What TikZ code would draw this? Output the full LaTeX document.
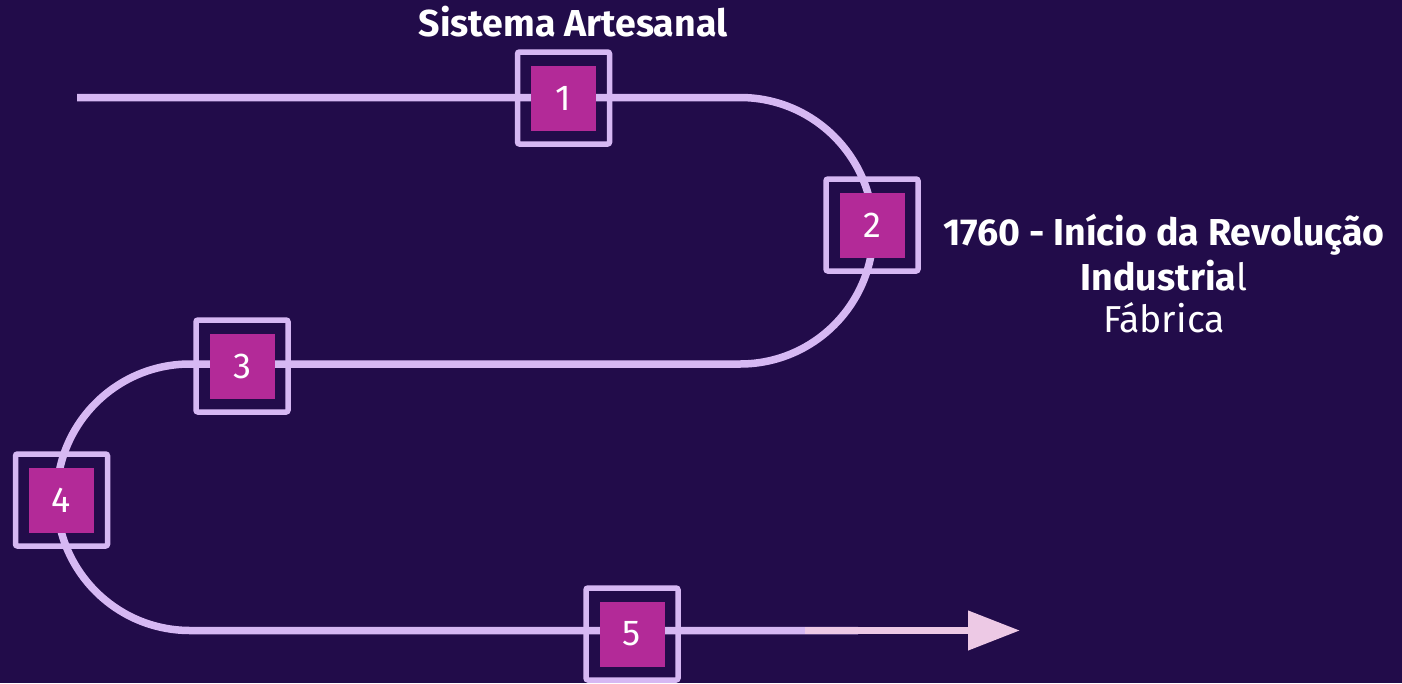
\documentclass[tikz,border=0pt]{standalone}
\usepackage{fontspec}
\setmainfont{Fira Sans}
\usetikzlibrary{arrows.meta}
\definecolor{bgpurple}{HTML}{220C4A}
\definecolor{trail}{HTML}{D6B8F3}
\definecolor{stagefill}{HTML}{B32A98}
\definecolor{arrowpink}{HTML}{EDC9E5}
\begin{document}
\begin{tikzpicture}
[
    x=1pt, y=-1pt,
    frame/.style={draw=trail, line width=5.5pt, rounded corners=2pt, minimum size=92pt, inner sep=0pt},
    stage/.style={fill=stagefill, text=white, minimum size=65pt, inner sep=0pt, font=\fontsize{36}{42}\selectfont},
    title/.style={text=white, anchor=base, inner sep=0pt, font=\fontsize{37.5}{44}\selectfont},
]
\fill[bgpurple] (0,0) rectangle (1402,683);
\useasboundingbox (0,0) rectangle (1402,683);
% trail
\coordinate (start) at (77,97.5);
\coordinate (turnR) at (740,97.5);
\coordinate (backL) at (190,364);
\coordinate (stop) at (858,630.5);
\coordinate (tailP) at (805,630.5);
\coordinate (tip) at (1020,630.5);
\draw[trail, line width=7.5pt] (start) -- (turnR)
    arc[start angle=90, end angle=-90, radius=133.25pt] -- (backL)
    arc[start angle=90, end angle=270, radius=133.25pt] -- (stop);
\draw[arrowpink, line width=7.5pt, -{Triangle[length=52pt, width=38pt]}] (tailP) -- (tip);
% stages
\node[frame] (f1) at (563.5,98) {};
\node[stage] (s1) at (f1) {1};
\node[frame] (f2) at (872,225) {};
\node[stage] (s2) at (f2) {2};
\node[frame] (f3) at (242,366) {};
\node[stage] (s3) at (f3) {3};
\node[frame] (f4) at (61.5,500) {};
\node[stage] (s4) at (f4) {4};
\node[frame] (f5) at (632,634) {};
\node[stage] (s5) at (f5) {5};
% labels
\node[title] (artesanal) at (573,36) {\bfseries Sistema Artesanal};
\node[title] (revolucao) at (1164,245) {\bfseries 1760 - Início da Revolução};
\node[title] (industrial) at (1164,290.5) {\textbf{Industria}l};
\node[title] (fabrica) at (1164,332) {Fábrica};
\end{tikzpicture}
\end{document}
